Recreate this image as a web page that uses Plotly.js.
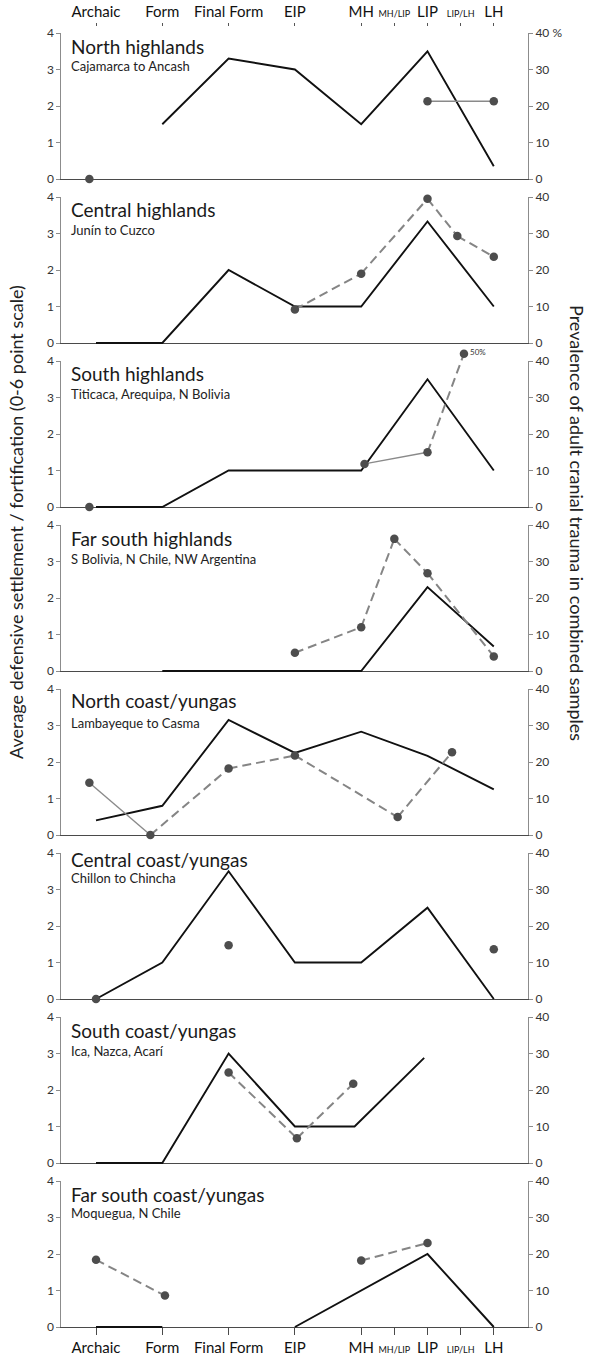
<!DOCTYPE html>
<html><head><meta charset="utf-8">
<script src="https://cdn.plot.ly/plotly-3.0.1.min.js"></script>
<style>html,body{margin:0;padding:0;background:#fff}</style>
</head><body><div id="chart" style="width:594px;height:1357px"></div>
<script>
// ---- data ----
const periods = ['Archaic','Form','Final Form','EIP','MH','MH/LIP','LIP','LIP/LH','LH'];
const periodPos = [0,1,2,3,4,4.5,5,5.5,6];
const minorPeriods = ['MH/LIP','LIP/LH'];

const regionNames = ['North highlands','Central highlands','South highlands','Far south highlands',
  'North coast/yungas','Central coast/yungas','South coast/yungas','Far south coast/yungas'];
const regionSubtitles = ['Cajamarca to Ancash','Junín to Cuzco','Titicaca, Arequipa, N Bolivia',
  'S Bolivia, N Chile, NW Argentina','Lambayeque to Casma','Chillon to Chincha','Ica, Nazca, Acarí','Moquegua, N Chile'];

// defensive settlement / fortification (0-6 scale), by period position
const fortX = [
  [1,2,3,4,5,6],
  [0,1,2,3,4,5,6],
  [0,1,2,3,4,5,6],
  [1,2,3,4,5,6],
  [0,1,2,3,4,5,6],
  [0,1,2,3,4,5,6],
  [0,1,2,3,3.9,4.95],
  [0,1,null,3,4,5,6]
];
const fortY = [
  [1.5,3.3,3.0,1.5,3.5,0.35],
  [0,0,2,1,1,3.33,1],
  [0,0,1,1,1,3.5,1],
  [0,0,0,0,2.3,0.67],
  [0.4,0.8,3.15,2.25,2.83,2.17,1.25],
  [0,1,3.5,1,1,2.5,0],
  [0,0,3,1,1,2.88],
  [0,0,null,0,1,2,0]
];

// prevalence of adult cranial trauma (%)
const traumaX = [
  [-0.1,5,6],
  [3,4,5,5.45,6],
  [-0.1,4.05,5,5.55],
  [3,4,4.5,5,6],
  [-0.1,0.82,2,3,4.55,5.37],
  [0,2,6],
  [2,3.03,3.88],
  [0,1.04,4,5]
];
const traumaY = [
  [0,21.3,21.3],
  [9.2,19,39.5,29.3,23.6],
  [0,11.8,15,42],
  [5,12,36.2,26.8,4],
  [14.3,0,18.2,21.8,4.9,22.7],
  [0,14.7,13.6],
  [24.8,6.8,21.7],
  [18.4,8.6,18.2,23]
];
// connector between consecutive trauma points
const traumaLinks = [
  [null,'solid'],
  ['dash','dash','dash','dash'],
  [null,'solid','dash'],
  ['dash','dash','dash','dash'],
  ['solid','dash','dash','dash','dash'],
  [null,null],
  ['dash','dash'],
  ['dash',null,'dash']
];
const traumaNotes = [
  [], [], [null,null,null,'50%'], [], [], [], [], []
];

const leftTitle = 'Average defensive settlement / fortification (0-6 point scale)';
const rightTitle = 'Prevalence of adult cranial trauma in combined samples';

// ---- layout geometry ----
const W = 594, H = 1357;
const axL = 61.4, axR = 528;
const xRange = [-0.522, 6.516];
const top0 = 33, panelH = 146, step = 164;
const extTop = 14, extBot = 4;
const py = p => (H - p) / H;
const id = (l, n) => n === 1 ? l : l + n;
const key = (l, n) => l + 'axis' + (n === 1 ? '' : n);
const FONT = 'Lato, "Open Sans", sans-serif';
const titleOff = [13,12,13,13,11,7,13.5,13];
const subOff = [33,33,33,34,33.5,25,34,32];

const tickText = periods.map(p => minorPeriods.includes(p) ? '<span style="font-size:9px">' + p + '</span>' : p);

const data = [];
const layout = {
  width: W, height: H, margin: {l:0, r:0, t:0, b:0},
  paper_bgcolor: '#fff', plot_bgcolor: 'rgba(0,0,0,0)',
  showlegend: false, hovermode: false,
  font: {family: FONT, color: '#222'},
  annotations: []
};
const xd = [axL / W, axR / W];

for (let k = 0; k < 8; k++) {
  const n = k + 1;
  const T = top0 + step * k, B = T + panelH;
  const unit = panelH / 4;
  const last = k === 7;
  layout[key('x', n)] = {
    domain: xd, anchor: id('y', n), range: xRange, showgrid: false, zeroline: false,
    showline: true, linecolor: '#4a4a4a', linewidth: 1.2,
    ticks: last ? 'outside' : '', ticklen: 7, tickcolor: '#4a4a4a', tickwidth: 1,
    tickmode: 'array', tickvals: periodPos, ticktext: tickText, showticklabels: last,
    tickfont: {size: 15, color: '#111', family: FONT}
  };
  layout[key('y', n)] = {
    domain: [py(B), py(T)], anchor: id('x', n), range: [0, 4],
    tickmode: 'array', tickvals: [0,1,2,3,4], ticks: 'outside', ticklen: 4, tickcolor: '#8c8c8c',
    showline: true, linecolor: '#8c8c8c', linewidth: 1, showgrid: false, zeroline: false,
    tickfont: {size: 12, color: '#333', family: FONT}
  };
  layout[key('y', n + 8)] = {
    overlaying: id('y', n), side: 'right', anchor: id('x', n), range: [0, 40],
    tickmode: 'array', tickvals: [0,10,20,30,40],
    ticktext: k === 0 ? ['0','10','20','30','40 %'] : ['0','10','20','30','40'],
    ticks: 'outside', ticklen: 4, tickcolor: '#8c8c8c',
    showline: true, linecolor: '#8c8c8c', linewidth: 1, showgrid: false, zeroline: false,
    tickfont: {size: 12, color: '#333', family: FONT}
  };
  // hidden, slightly taller subplot that carries the data (so marks are not clipped)
  layout[key('x', n + 8)] = {domain: xd, anchor: id('y', n + 16), range: xRange, visible: false};
  layout[key('y', n + 16)] = {domain: [py(B + extBot), py(T - extTop)], anchor: id('x', n + 8),
    range: [-extBot / unit, 4 + extTop / unit], visible: false};
  layout[key('y', n + 24)] = {overlaying: id('y', n + 16), anchor: id('x', n + 8),
    range: [-10 * extBot / unit, 40 + 10 * extTop / unit], visible: false};

  // dummy traces so the visible axes are drawn
  data.push({type: 'scatter', x: [null], y: [null], xaxis: id('x', n), yaxis: id('y', n), mode: 'lines', hoverinfo: 'skip'});
  data.push({type: 'scatter', x: [null], y: [null], xaxis: id('x', n), yaxis: id('y', n + 8), mode: 'lines', hoverinfo: 'skip'});

  const hx = id('x', n + 8), hyF = id('y', n + 16), hyT = id('y', n + 24);
  // fortification line
  data.push({type: 'scatter', mode: 'lines', x: fortX[k], y: fortY[k], xaxis: hx, yaxis: hyF,
    connectgaps: false, line: {color: '#111', width: 1.9}, hoverinfo: 'skip'});
  // trauma connectors
  const seg = {dash: {x: [], y: []}, solid: {x: [], y: []}};
  traumaLinks[k].forEach((t, i) => {
    if (!t) return;
    seg[t].x.push(traumaX[k][i], traumaX[k][i + 1], null);
    seg[t].y.push(traumaY[k][i], traumaY[k][i + 1], null);
  });
  if (seg.solid.x.length) data.push({type: 'scatter', mode: 'lines', x: seg.solid.x, y: seg.solid.y,
    xaxis: hx, yaxis: hyT, connectgaps: false, line: {color: '#8a8a8a', width: 1.4}, hoverinfo: 'skip'});
  if (seg.dash.x.length) data.push({type: 'scatter', mode: 'lines', x: seg.dash.x, y: seg.dash.y,
    xaxis: hx, yaxis: hyT, connectgaps: false, line: {color: '#858585', width: 2, dash: '9px,5px'}, hoverinfo: 'skip'});
  // trauma dots
  data.push({type: 'scatter', mode: 'markers', x: traumaX[k], y: traumaY[k], xaxis: hx, yaxis: hyT,
    cliponaxis: false, marker: {size: 8.5, color: '#4d4d4d'}, hoverinfo: 'skip'});
  traumaNotes[k].forEach((t, i) => {
    if (!t) return;
    layout.annotations.push({xref: hx, yref: hyT, x: traumaX[k][i], y: traumaY[k][i], text: t,
      showarrow: false, xanchor: 'left', yanchor: 'middle', xshift: 4, yshift: 2,
      font: {size: 8, color: '#333', family: FONT}});
  });

  // panel titles
  layout.annotations.push({xref: 'paper', yref: 'paper', x: 69 / W, y: py(T + titleOff[k]),
    text: regionNames[k], showarrow: false, xanchor: 'left', yanchor: 'middle',
    font: {size: 19, color: '#1a1a1a', family: FONT}});
  layout.annotations.push({xref: 'paper', yref: 'paper', x: 69 / W, y: py(T + subOff[k]),
    text: regionSubtitles[k], showarrow: false, xanchor: 'left', yanchor: 'middle',
    font: {size: 13, color: '#222', family: FONT}});
}

// top period labels
layout['xaxis17'] = {overlaying: 'x', anchor: 'free', position: py(26), side: 'top', range: xRange,
  tickmode: 'array', tickvals: periodPos, ticktext: tickText, ticks: 'outside', ticklen: 3,
  tickcolor: '#555', showline: false, showgrid: false, zeroline: false,
  tickfont: {size: 15, color: '#111', family: FONT}};
data.push({type: 'scatter', x: [null], y: [null], xaxis: 'x17', yaxis: 'y', mode: 'lines', hoverinfo: 'skip'});

// axis titles
layout.annotations.push({xref: 'paper', yref: 'paper', x: 16 / W, y: py(522), text: leftTitle,
  textangle: -90, showarrow: false, xanchor: 'center', yanchor: 'middle',
  font: {size: 18, color: '#222', family: FONT}});
layout.annotations.push({xref: 'paper', yref: 'paper', x: 577 / W, y: py(523), text: rightTitle,
  textangle: 90, showarrow: false, xanchor: 'center', yanchor: 'middle',
  font: {size: 18, color: '#222', family: FONT}});

Plotly.newPlot('chart', data, layout, {displayModeBar: false, staticPlot: true});
</script>
</body></html>
